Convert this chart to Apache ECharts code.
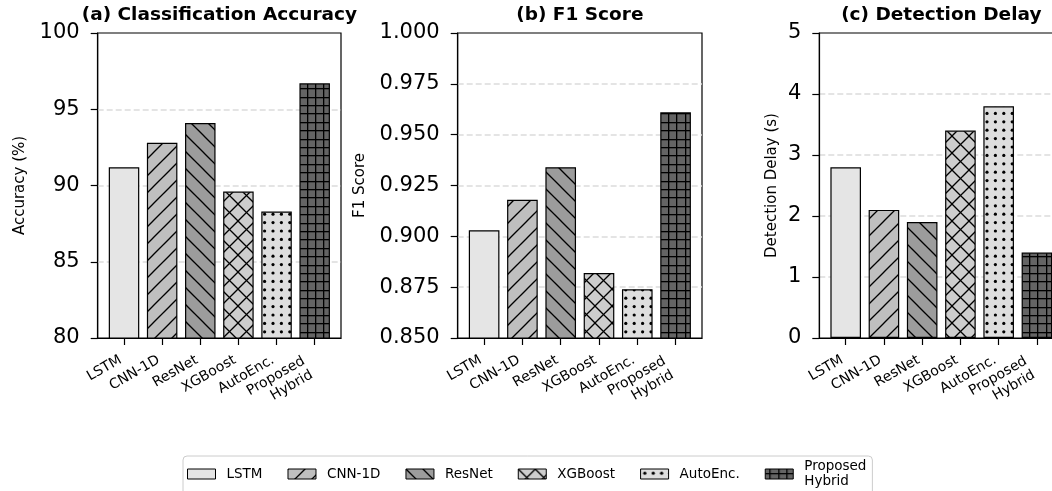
<!DOCTYPE html>
<html>
<head>
<meta charset="utf-8">
<script src="https://cdn.jsdelivr.net/npm/echarts@6/dist/echarts.min.js"></script>
<style>
  html, body { margin: 0; padding: 0; background: #ffffff; }
  #chart { width: 1052px; height: 491px; }
</style>
</head>
<body>
<div id="chart"></div>
<script>
// ---------------- data ----------------
const categories = ['LSTM', 'CNN-1D', 'ResNet', 'XGBoost', 'AutoEnc.', 'Proposed\nHybrid'];
const accuracy = [91.2, 92.8, 94.1, 89.6, 88.3, 96.7];
const f1Score = [0.903, 0.918, 0.934, 0.882, 0.874, 0.961];
const detectionDelay = [2.8, 2.1, 1.9, 3.4, 3.8, 1.4];

const panelTitles = ['(a) Classification Accuracy', '(b) F1 Score', '(c) Detection Delay'];
const yAxisNames = ['Accuracy (%)', 'F1 Score', 'Detection Delay (s)'];
const yMins = [80, 0.85, 0];
const yMaxs = [100, 1.0, 5];
const yIntervals = [5, 0.025, 1];
const yDecimals = [0, 3, 0];

// ---------------- styling ----------------
const FONT = 'DejaVu Sans';
const barColors = ['#e5e5e5', '#bfbfbf', '#9c9c9c', '#cdcdcd', '#dedede', '#646464'];
const hatches = ['', '/', '\\', 'x', '.', '+'];

function makePattern(bg, hatch) {
  if (!hatch) return bg;
  const lineSize = 17;
  const fineSize = 8.4;
  const size = (hatch === '.' || hatch === '+') ? Math.round(fineSize * 5) : lineSize;
  const c = document.createElement('canvas');
  const w = size, h = size;
  c.width = w; c.height = h;
  const ctx = c.getContext('2d');
  ctx.fillStyle = bg;
  ctx.fillRect(0, 0, w, h);
  ctx.strokeStyle = '#000';
  ctx.fillStyle = '#000';
  ctx.lineWidth = 1.3;
  const line = (x1, y1, x2, y2) => { ctx.beginPath(); ctx.moveTo(x1, y1); ctx.lineTo(x2, y2); ctx.stroke(); };
  if (hatch === '/' || hatch === 'x') {
    line(0, h, w, 0); line(-2, 2, 2, -2); line(w - 2, h + 2, w + 2, h - 2);
  }
  if (hatch === '\\' || hatch === 'x') {
    line(0, 0, w, h); line(-2, h - 2, 2, h + 2); line(w - 2, -2, w + 2, 2);
  }
  if (hatch === '+') {
    const n = 5, s = w / n;
    for (let k = 0; k < n; k++) {
      ctx.fillRect(Math.round(k * s + s / 2), 0, 1.3, h);
      ctx.fillRect(0, Math.round(k * s + s / 2), w, 1.3);
    }
  }
  if (hatch === '.') {
    const n = 5, s = w / n;
    for (let r = 0; r < n; r++) {
      for (let k = 0; k <= n; k++) {
        const x = k * s + s / 2;
        const y = r * s + s / 2;
        ctx.beginPath(); ctx.arc(x, y, 1.6, 0, Math.PI * 2); ctx.fill();
      }
    }
  }
  return { image: c, repeat: 'repeat' };
}

const fills = barColors.map((c, i) => makePattern(c, hatches[i]));

// ---------------- layout ----------------
const plotTop = 33, plotHeight = 305;
const plotLefts = [97.7, 457.7, 819.3];
const plotWidths = [243.3, 244.3, 244];
const nameGaps = [70, 90, 40];

const n = categories.length;
const barRel = 0.8;
const pad = 0.05 * ((n - 1) + barRel);
const xMin = -barRel / 2 - pad;
const xMax = (n - 1) + barRel / 2 + pad;
const tickIdx = categories.map((_, i) => i);
const singleLineIdx = tickIdx.filter(i => categories[i].indexOf('\n') < 0);
const multiLineIdx = tickIdx.filter(i => categories[i].indexOf('\n') >= 0);

const values = [accuracy, f1Score, detectionDelay];

const labelBase = {
  show: true, hideOverlap: false,
  formatter: v => categories[Math.round(v)],
  rotate: 30,
  fontFamily: FONT, fontSize: 14, color: '#000', lineHeight: 16
};

const grids = [], xAxes = [], yAxes = [], titles = [], series = [];
for (let p = 0; p < 3; p++) {
  grids.push({
    left: plotLefts[p], top: plotTop, width: plotWidths[p], height: plotHeight,
    outerBoundsMode: 'none', containLabel: false,
    show: true, borderColor: '#000', borderWidth: 1.2, backgroundColor: 'transparent'
  });
  titles.push({
    text: panelTitles[p],
    left: plotLefts[p] + plotWidths[p] / 2,
    top: 6,
    padding: 0,
    textAlign: 'center',
    textStyle: { fontFamily: FONT, fontWeight: 'bold', fontSize: 18.5, color: '#000' }
  });
  // main x axis: line, all ticks, single-line labels
  xAxes.push({
    type: 'value', gridIndex: p, min: xMin, max: xMax, position: 'bottom',
    axisLine: { show: true, onZero: false, lineStyle: { color: '#000', width: 1.2 } },
    axisTick: { show: true, length: 7, customValues: tickIdx, lineStyle: { color: '#000', width: 1.2 } },
    axisLabel: Object.assign({}, labelBase, {
      customValues: singleLineIdx, margin: 19, padding: [0, 4, 0, 0]
    }),
    splitLine: { show: false }
  });
  // companion x axis: labels of the two-line category names only
  xAxes.push({
    type: 'value', gridIndex: p, min: xMin, max: xMax, position: 'bottom',
    axisLine: { show: false, onZero: false },
    axisTick: { show: false },
    axisLabel: Object.assign({}, labelBase, {
      customValues: multiLineIdx, margin: 25, padding: [0, 8, 0, 0]
    }),
    splitLine: { show: false }
  });
  const dec = yDecimals[p];
  yAxes.push({
    type: 'value', gridIndex: p, min: yMins[p], max: yMaxs[p], interval: yIntervals[p],
    name: yAxisNames[p], nameLocation: 'middle', nameGap: nameGaps[p],
    nameTextStyle: { fontFamily: FONT, fontSize: 15, color: '#000' },
    axisLine: { show: true, onZero: false, lineStyle: { color: '#000', width: 1.2 } },
    axisTick: { show: true, length: 7, lineStyle: { color: '#000', width: 1.2 } },
    axisLabel: {
      fontFamily: FONT, fontSize: 21, color: '#000', margin: 18,
      formatter: v => Number(v).toFixed(dec)
    },
    splitLine: {
      show: true, showMinLine: false, showMaxLine: false,
      lineStyle: { type: [6, 3], color: '#dcdcdc', width: 1.5 }
    }
  });
  const unit = plotWidths[p] / (xMax - xMin);
  for (let i = 0; i < n; i++) {
    series.push({
      type: 'bar', name: categories[i],
      xAxisIndex: 2 * p, yAxisIndex: p,
      data: [[i, values[p][i]]],
      barWidth: barRel * unit,
      barGap: '-100%',
      itemStyle: { color: fills[i], borderColor: '#000', borderWidth: 1.2 },
      emphasis: { disabled: true },
      silent: true
    });
  }
}

const chart = echarts.init(document.getElementById('chart'), null, { renderer: 'canvas' });
chart.setOption({
  backgroundColor: '#ffffff',
  animation: false,
  title: titles,
  grid: grids,
  xAxis: xAxes,
  yAxis: yAxes,
  legend: {
    data: categories,
    left: 183, top: 456,
    orient: 'horizontal',
    icon: 'rect',
    itemWidth: 28, itemHeight: 10, itemGap: 25,
    padding: [3, 6, 6, 4],
    borderColor: '#cccccc', borderWidth: 1, borderRadius: 4,
    backgroundColor: '#ffffff',
    selectedMode: false,
    itemStyle: { borderColor: '#000', borderWidth: 1 },
    textStyle: { fontFamily: FONT, fontSize: 13.5, color: '#000', lineHeight: 15, padding: [0, 0, 0, 6] }
  },
  series: series
});
</script>
</body>
</html>
